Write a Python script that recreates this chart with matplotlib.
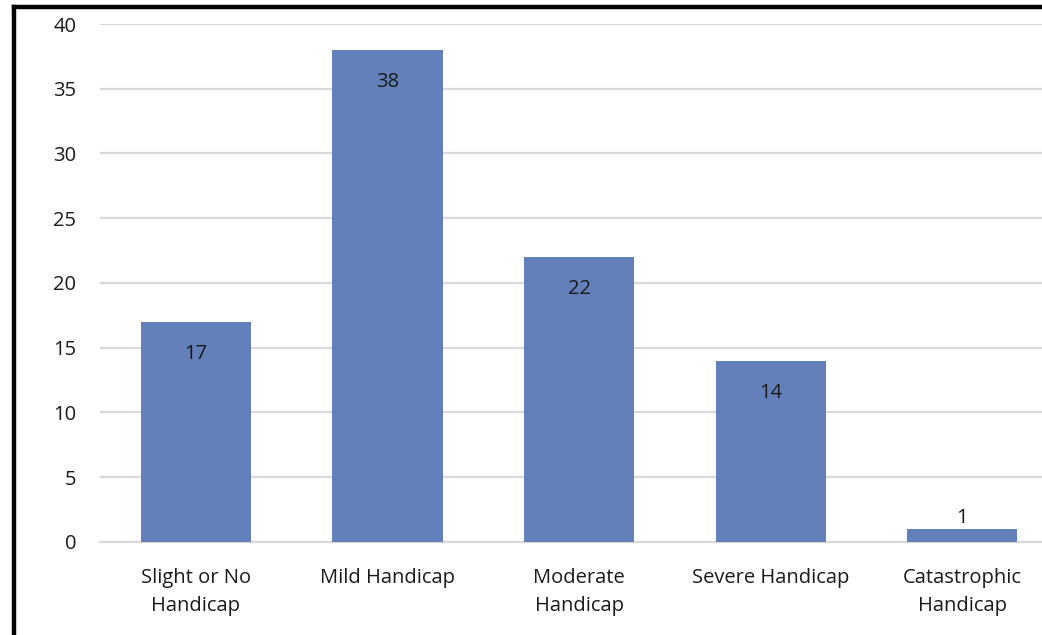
import matplotlib
matplotlib.use("Agg")
import matplotlib.pyplot as plt
from matplotlib.lines import Line2D

categories = ["Slight or No\nHandicap", "Mild Handicap", "Moderate\nHandicap",
              "Severe Handicap", "Catastrophic\nHandicap"]
counts = [17, 38, 22, 14, 1]
yticks = [0, 5, 10, 15, 20, 25, 30, 35, 40]

BAR_COLOR = "#6480BB"
GRID_COLOR = "#D9D9D9"
TEXT_COLOR = "#1a1a1a"
FS = 14.5

plt.rcParams["font.family"] = ["Open Sans", "DejaVu Sans"]

fig = plt.figure(figsize=(10.42, 6.35), dpi=100)
ax = fig.add_axes([0.096, 0.1465, 0.9194, 0.8157])

x = range(len(categories))
bars = ax.bar(x, counts, width=0.575, color=BAR_COLOR, zorder=3)

ax.set_xlim(-0.5, len(categories) - 0.5)
ax.set_ylim(0, 40)
ax.set_yticks(yticks)
ax.set_xticks(list(x))
ax.set_xticklabels(categories, fontsize=FS, color=TEXT_COLOR, linespacing=1.5)
ax.tick_params(axis="y", labelsize=FS, labelcolor=TEXT_COLOR, length=0, pad=17)
ax.tick_params(axis="x", length=0, pad=19)

ax.yaxis.grid(True, color=GRID_COLOR, lw=1.6, zorder=0)
for side in ["top", "right", "left"]:
    ax.spines[side].set_visible(False)
ax.spines["bottom"].set_color(GRID_COLOR)
ax.spines["bottom"].set_linewidth(1.6)

# value labels: inside the top of the bar, or just above it for tiny bars
for b, v in zip(bars, counts):
    cx = b.get_x() + b.get_width() / 2
    if v >= 3:
        ax.annotate(f"{v}", (cx, v), xytext=(0, -16), textcoords="offset points",
                    ha="center", va="top", fontsize=FS, color=TEXT_COLOR, zorder=4)
    else:
        ax.annotate(f"{v}", (cx, v), xytext=(0, 1), textcoords="offset points",
                    ha="center", va="bottom", fontsize=FS, color=TEXT_COLOR, zorder=4)

# black frame along the left and top edges
fig.add_artist(Line2D([0.0134, 0.0134], [0, 0.989], transform=fig.transFigure,
                      color="black", lw=3.2, solid_capstyle="projecting"))
fig.add_artist(Line2D([0.0134, 1.0], [0.989, 0.989], transform=fig.transFigure,
                      color="black", lw=3.2, solid_capstyle="projecting"))

fig.savefig("out.png", dpi=100)
